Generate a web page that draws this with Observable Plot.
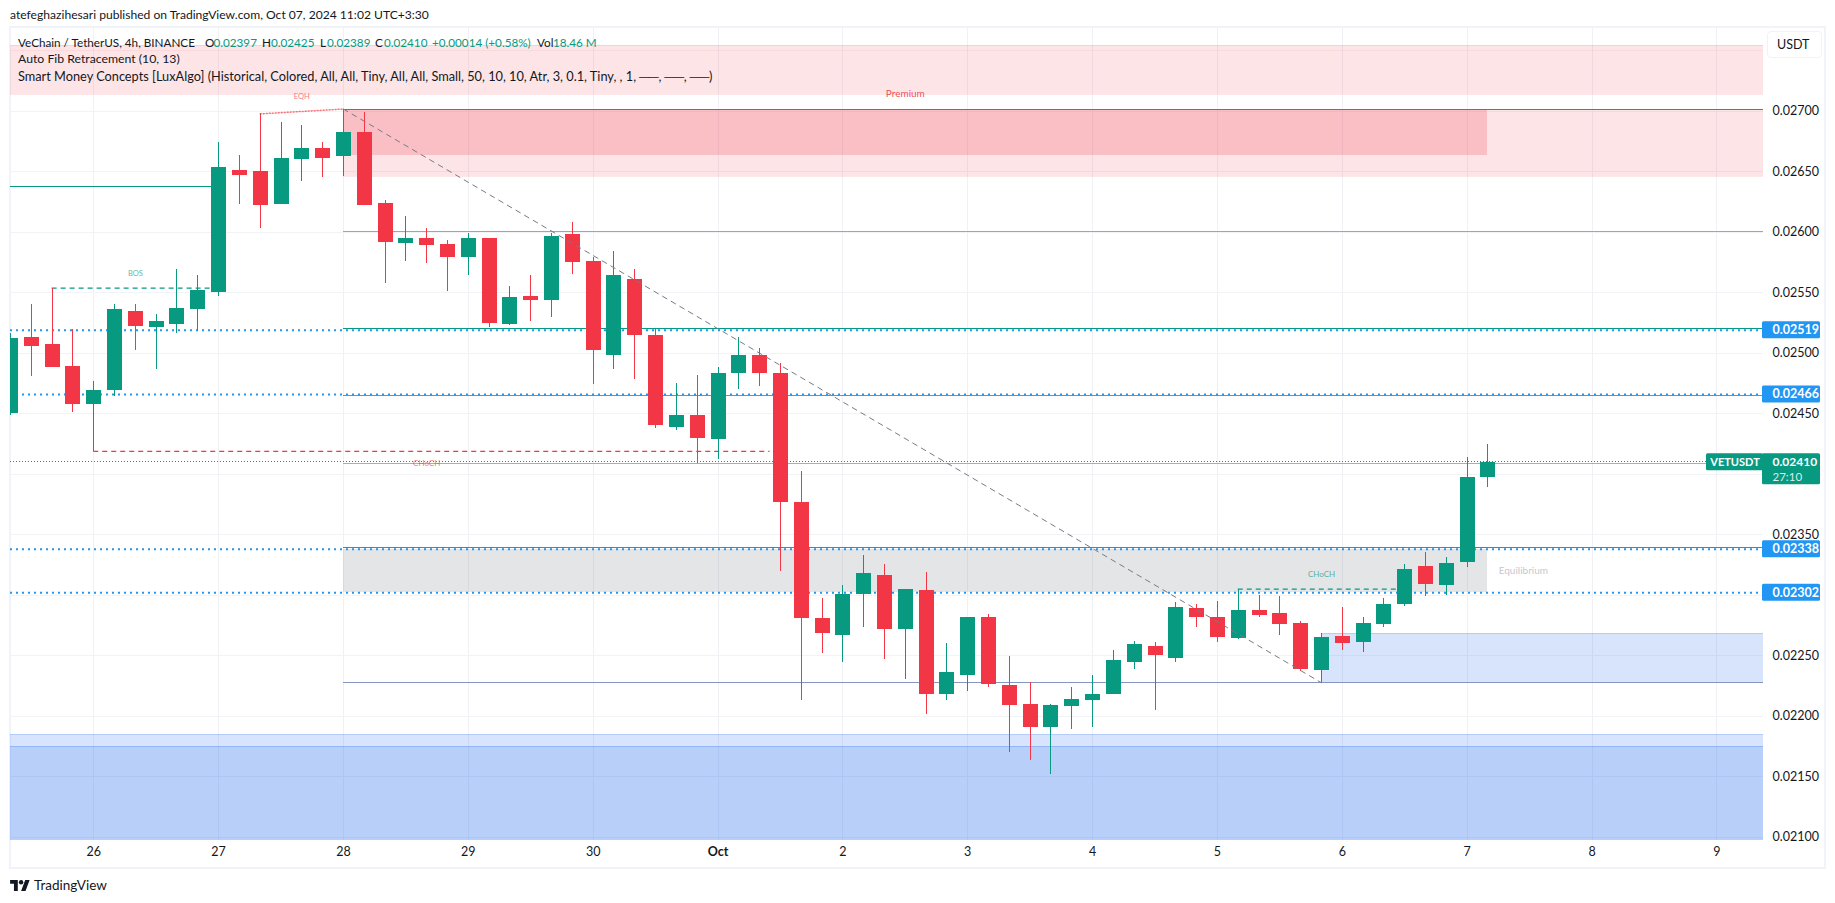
<!DOCTYPE html>
<html><head><meta charset="utf-8">
<style>
html,body{margin:0;padding:0;background:#fff;width:1835px;height:903px;overflow:hidden}
body{font-family:Lato,sans-serif;color:#131722;position:relative}
#frame{position:absolute;left:9px;top:26px;width:1813px;height:839px;border:2px solid #f0f3fa}
#chart{position:absolute;left:0;top:0}
.t{position:absolute;white-space:pre;font-size:13px;line-height:16px}
.g{color:#089981}
#usdt{position:absolute;left:1767px;top:31px;width:53px;height:25px;border:1px solid #f0f3fa;border-radius:4px;font-size:12.5px;line-height:25px;text-indent:9px}
#logo{position:absolute;left:10px;top:880px}
</style>
<script src="https://cdn.jsdelivr.net/npm/d3@7"></script>
<script src="https://cdn.jsdelivr.net/npm/@observablehq/plot@0.6"></script>
</head><body>
<div id="frame"></div>
<div id="chart"></div>
<div id="usdt">USDT</div>
<svg id="logo" width="20" height="11" viewBox="0 0 36 20"><path d="M14 20H7V7H0V0h14v20zM28 20h-8L27.5 0h8L28 20z" fill="#131722"/><circle cx="20" cy="4" r="4" fill="#131722"/></svg>
<script>
const firstCandleIndex = -4;
const opens = [0.0245,0.02513,0.02507,0.02489,0.02458,0.02469,0.02535,0.02521,0.02524,0.02536,0.0255,0.02651,0.0265,0.02623,0.0266,0.02669,0.02663,0.02683,0.02624,0.02591,0.02595,0.0259,0.02579,0.02595,0.02524,0.02547,0.02544,0.02598,0.02576,0.02498,0.02561,0.02515,0.02439,0.02449,0.02429,0.02483,0.02498,0.02483,0.02377,0.02281,0.02267,0.02301,0.02316,0.02272,0.02304,0.02218,0.02234,0.02282,0.02225,0.0221,0.02191,0.02208,0.02213,0.02218,0.02244,0.02258,0.02248,0.02289,0.02282,0.02264,0.02287,0.02285,0.02277,0.02238,0.02266,0.02261,0.02276,0.02292,0.02324,0.02308,0.02327,0.02397];
const highs = [0.02516,0.0254,0.02554,0.0252,0.02477,0.0254,0.0254,0.02532,0.02569,0.02564,0.02674,0.02664,0.02698,0.02691,0.02688,0.02674,0.02702,0.02699,0.02626,0.02613,0.02603,0.02593,0.02599,0.02595,0.02555,0.02564,0.02599,0.02608,0.02579,0.02584,0.02569,0.0252,0.02475,0.02482,0.02488,0.02513,0.02504,0.02492,0.02402,0.02297,0.02308,0.02333,0.02325,0.02305,0.02319,0.0226,0.02282,0.02284,0.02249,0.02228,0.0221,0.02224,0.02234,0.02254,0.02262,0.02261,0.02294,0.02292,0.02295,0.02305,0.023,0.02299,0.02278,0.02268,0.0229,0.02282,0.02297,0.02325,0.02335,0.02331,0.02414,0.02425];
const lows = [0.02449,0.02481,0.02488,0.02451,0.02419,0.02464,0.02502,0.02487,0.02516,0.02518,0.02547,0.02623,0.02603,0.02623,0.02642,0.02645,0.02646,0.02622,0.02558,0.02576,0.02574,0.02551,0.02564,0.02521,0.02523,0.02526,0.0253,0.02565,0.02474,0.02487,0.02478,0.02438,0.02436,0.02409,0.02412,0.0247,0.02473,0.0232,0.02213,0.02252,0.02244,0.02273,0.02247,0.0223,0.02201,0.02213,0.0222,0.02224,0.0217,0.02163,0.02152,0.02189,0.02191,0.02218,0.02239,0.02205,0.02244,0.02273,0.02261,0.02263,0.02282,0.02267,0.02237,0.02228,0.02254,0.02253,0.02273,0.02291,0.02299,0.023,0.02323,0.02389];
const closes = [0.02512,0.02506,0.02488,0.02458,0.02469,0.02536,0.02522,0.02526,0.02537,0.02552,0.02654,0.02647,0.02622,0.02661,0.02669,0.02661,0.02683,0.02622,0.02592,0.02595,0.02589,0.02579,0.02595,0.02525,0.02546,0.02544,0.02597,0.02575,0.02502,0.02564,0.02515,0.0244,0.02449,0.0243,0.02483,0.02498,0.02483,0.02377,0.02281,0.02268,0.02301,0.02318,0.02272,0.02305,0.02218,0.02236,0.02282,0.02226,0.02209,0.02191,0.02209,0.02214,0.02218,0.02246,0.02259,0.0225,0.0229,0.02282,0.02265,0.02287,0.02283,0.02276,0.02239,0.02265,0.0226,0.02277,0.02292,0.02321,0.02309,0.02326,0.02397,0.0241];

const dayTickIndex = [0,6,12,18,24,30,36,42,48,54,60,66,72,78];
const dayTickLabels = ["26","27","28","29","30","Oct","2","3","4","5","6","7","8","9"];
const priceTicks = [0.021,0.0215,0.022,0.0225,0.023,0.0235,0.024,0.0245,0.025,0.0255,0.026,0.0265,0.027];
const priceTags = [0.02519,0.02466,0.02338,0.02302];
const lastPrice = 0.0241;
const countdown = "27:10";
const symbol = "VETUSDT";

const xMin = -4.0, xMax = 80.24, yMin = 0.020972, yMax = 0.027686;
const GREEN = "#089981", RED = "#f23645", BLUE = "#2196f3";

const zones = [
  {a:xMin,b:xMax,lo:0.02714,hi:0.027546,fill:"rgba(242,54,69,.13)"},
  {a:12,b:xMax,lo:0.026466,hi:0.02702,fill:"rgba(242,54,69,.13)"},
  {a:12,b:67,lo:0.02664,hi:0.02702,fill:"rgba(242,54,69,.21)"},
  {a:12,b:67,lo:0.02302,hi:0.02338,fill:"rgba(120,123,134,.2)"},
  {a:59,b:xMax,lo:0.022276,hi:0.02268,fill:"rgba(40,110,240,.19)"},
  {a:xMin,b:xMax,lo:yMin,hi:0.021846,fill:"rgba(40,110,240,.19)"},
  {a:xMin,b:xMax,lo:yMin,hi:0.021747,fill:"rgba(40,110,240,.18)"}
];
const zoneEdges = [
  {a:xMin,b:xMax,p:0.027546,c:"rgba(242,54,69,.12)"},
  {a:xMin,b:xMax,p:0.027504,c:"rgba(242,54,69,.07)"},
  {a:xMin,b:xMax,p:0.02714,c:"rgba(242,54,69,.12)"},
  {a:12,b:xMax,p:0.026466,c:"rgba(242,54,69,.12)"},
  {a:59,b:xMax,p:0.02268,c:"rgba(40,110,240,.2)"},
  {a:xMin,b:xMax,p:0.021846,c:"rgba(40,110,240,.2)"},
  {a:xMin,b:xMax,p:0.021747,c:"rgba(40,110,240,.25)"}
];
const solidLines = [
  {a:12,b:xMax,p:0.02702,c:"#6a7383"},
  {a:12,b:xMax,p:0.026004,c:"#64b5f6"},
  {a:12,b:xMax,p:0.025205,c:"#089981"},
  {a:12,b:xMax,p:0.02465,c:"#5aa86a"},
  {a:12,b:xMax,p:0.02409,c:"#86c596"},
  {a:12,b:xMax,p:0.023395,c:"#e5484d"},
  {a:12,b:xMax,p:0.022276,c:"#8796c0"},
  {a:xMin,b:6,p:0.02638,c:"#089981"}
];
const dashedLines = [
  {a:-2,b:5.6,p:0.02554,c:GREEN},
  {a:0,b:32.5,p:0.02419,c:RED},
  {a:55,b:63,p:0.02305,c:GREEN}
];
const tinyLabels = [
  {i:2.0,p:0.02566,text:"BOS",c:GREEN,s:7.5},
  {i:10,p:0.02712,text:"EQH",c:RED,s:7.5},
  {i:16,p:0.02409,text:"CHoCH",c:RED,s:8},
  {i:59,p:0.02317,text:"CHoCH",c:GREEN,s:8},
  {i:39,p:0.02715,text:"Premium",c:RED,s:10},
  {i:68.7,p:0.0232,text:"Equilibrium",c:"#a6abb8",s:10}
];
const headerText = "atefeghazihesari published on TradingView.com, Oct 07, 2024 11:02 UTC+3:30";
const legendLine1 = [[18,"VeChain / TetherUS, 4h, BINANCE",0],[205,"O",0],[213.5,"0.02397",1],[262,"H",0],[271,"0.02425",1],[320,"L",0],[327,"0.02389",1],[375,"C",0],[384,"0.02410",1],[432,"+0.00014 (+0.58%)",1],[537,"Vol",0],[553,"18.46 M",1]];
const legendLine2 = "Auto Fib Retracement (10, 13)";
const legendLine3 = "Smart Money Concepts [LuxAlgo] (Historical, Colored, All, All, Tiny, All, All, Small, 50, 10, 10, Atr, 3, 0.1, Tiny, , 1, ──, ──, ──)";

const candles = opens.map((o,k)=>({i:k+firstCandleIndex,o,h:highs[k],l:lows[k],c:closes[k],col:closes[k]>=o?GREEN:RED}));
const FONT = 'Lato,sans-serif';

const chart = Plot.plot({
  width:1835,height:903,marginLeft:10,marginRight:72,marginTop:28,marginBottom:63,
  style:{background:"transparent",fontFamily:FONT,fontSize:"12.5px"},
  x:{domain:[xMin,xMax],axis:null},
  y:{domain:[yMin,yMax],axis:null},
  marks:[
    Plot.gridX(dayTickIndex,{stroke:"#eff1f5",strokeOpacity:1,shapeRendering:"crispEdges"}),
    Plot.gridY(priceTicks,{stroke:"#f2f3f6",strokeOpacity:1,shapeRendering:"crispEdges"}),
    Plot.rect(zones,{x1:"a",x2:"b",y1:"lo",y2:"hi",fill:d=>d.fill,shapeRendering:"crispEdges"}),
    Plot.ruleY(zoneEdges,{y:"p",x1:"a",x2:"b",stroke:d=>d.c,shapeRendering:"crispEdges"}),
    ...solidLines.map(d=>Plot.ruleY([d.p],{x1:d.a,x2:d.b,stroke:d.c,strokeOpacity:1,strokeWidth:1,shapeRendering:"crispEdges"})),
    Plot.ruleY(priceTags,{stroke:BLUE,strokeWidth:2,strokeDasharray:"2 4",x1:xMin,x2:xMax}),
    Plot.ruleY([lastPrice],{stroke:GREEN,strokeWidth:1,strokeDasharray:"1 2",x1:xMin,x2:xMax,dy:-1,shapeRendering:"crispEdges"}),
    Plot.ruleY(dashedLines,{y:"p",x1:"a",x2:"b",stroke:d=>d.c,strokeDasharray:"5 4",strokeWidth:1.3}),
    Plot.ruleX(candles,{x:"i",y1:"l",y2:"h",stroke:d=>d.col,strokeWidth:1,clip:"frame",shapeRendering:"crispEdges"}),
    Plot.ruleX(candles,{x:"i",y1:"o",y2:"c",stroke:d=>d.col,strokeWidth:15,clip:"frame",shapeRendering:"crispEdges"}),
    Plot.line([{i:12,p:0.02702},{i:59,p:0.022276}],{x:"i",y:"p",stroke:"#787b86",strokeWidth:1,strokeDasharray:"5 5"}),
    Plot.line([{i:8,p:0.02698},{i:12,p:0.02702}],{x:"i",y:"p",stroke:RED,strokeWidth:1.5,strokeDasharray:"1 2",strokeOpacity:.7}),
    ...tinyLabels.map(d=>Plot.text([d],{x:"i",y:"p",text:"text",fill:d.c,fontSize:d.s,fillOpacity:d.c===RED&&d.s===10?.9:.7})),
    Plot.axisX({ticks:dayTickIndex.filter(i=>i!==30),tickFormat:i=>dayTickLabels[dayTickIndex.indexOf(i)],tickSize:0,tickPadding:7,anchor:"bottom",label:null,fontSize:12.5,color:"#131722"}),
    Plot.axisX({ticks:[30],tickFormat:i=>dayTickLabels[dayTickIndex.indexOf(i)],tickSize:0,tickPadding:7,anchor:"bottom",label:null,fontSize:12.5,fontWeight:"bold",color:"#131722"}),
    Plot.axisY({ticks:priceTicks,tickFormat:d3.format(".5f"),tickSize:0,tickPadding:9,anchor:"right",label:null,fontSize:12.5,color:"#131722"}),
    Plot.rect(priceTags,{x1:xMax,x2:xMax,y1:d=>d,y2:d=>d,insetRight:-57,insetLeft:-1,insetTop:-8.5,insetBottom:-8.5,fill:BLUE,rx:1.5}),
    Plot.text(priceTags,{x:xMax,y:d=>d,text:d3.format(".5f"),dx:9,textAnchor:"start",fill:"white",fontSize:12.5,fontWeight:700}),
    Plot.rect([lastPrice],{x1:xMax,x2:xMax,y1:d=>d,y2:d=>d,insetRight:-57,insetLeft:-1,insetTop:-8.5,insetBottom:-22.5,fill:GREEN,rx:1.5}),
    Plot.rect([lastPrice],{x1:xMax,x2:xMax,y1:d=>d,y2:d=>d,insetLeft:-57,insetTop:-8.5,insetBottom:-8.5,fill:GREEN,rx:1.5}),
    Plot.text([lastPrice],{x:xMax,y:d=>d,text:d3.format(".5f"),dx:9,textAnchor:"start",fill:"white",fontSize:12,fontWeight:700}),
    Plot.text([countdown],{x:xMax,y:lastPrice,text:d=>d,dx:9,dy:15,textAnchor:"start",fill:"white",fillOpacity:.85,fontSize:11.5}),
    Plot.text([symbol],{x:xMax,y:lastPrice,text:d=>d,dx:-28.5,textAnchor:"middle",fill:"white",fontSize:11,fontWeight:700})
  ]
});
document.getElementById("chart").appendChild(chart);

function put(x,y,text,cls,size){
  const el=document.createElement("div");
  el.className="t"+(cls?" "+cls:"");
  el.style.left=x+"px";el.style.top=(y-8)+"px";
  if(size)el.style.fontSize=size+"px";
  el.textContent=text;
  document.body.appendChild(el);
}
put(10,15,headerText,"",12.1);
legendLine1.forEach(([x,t,g])=>put(x,42,t,g?"g":"",11.7));
put(18,59,legendLine2,"",12.25);
put(18,76,legendLine3,"",12.75);
put(34,885,"TradingView","",13.5);
</script>
</body></html>
